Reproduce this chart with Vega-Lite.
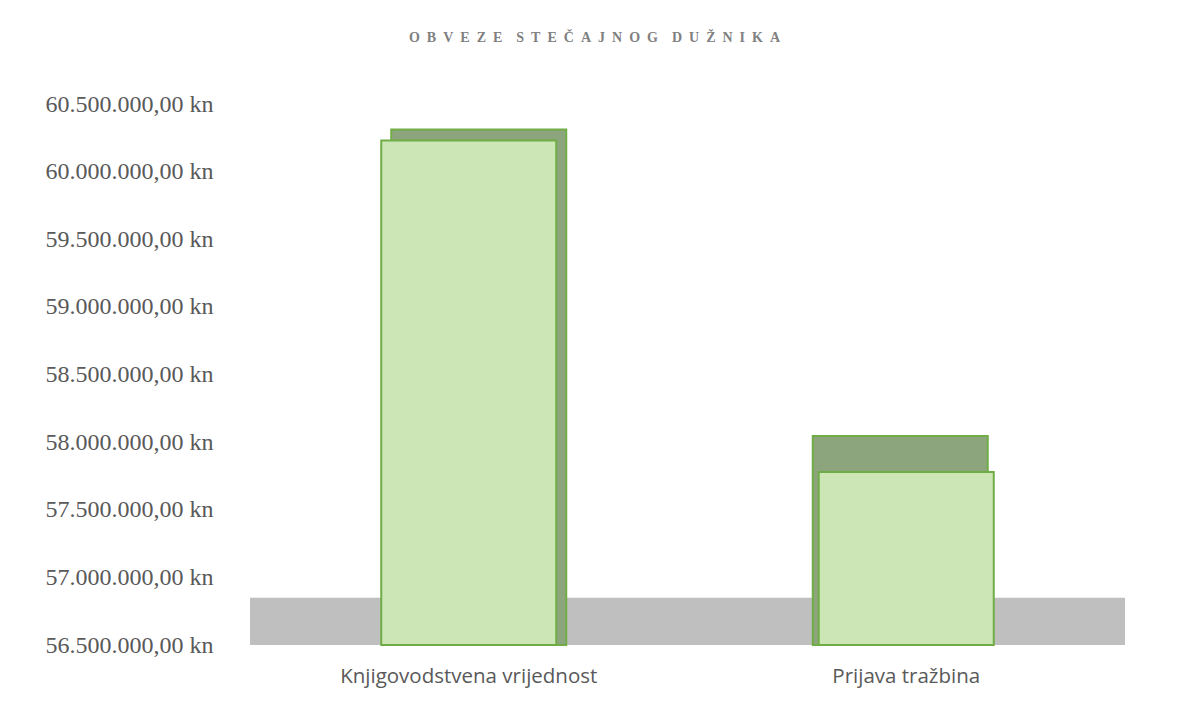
{
  "$schema": "https://vega.github.io/schema/vega-lite/v6.json",
  "width": 875,
  "height": 541,
  "autosize": {"type": "none"},
  "padding": {"left": 250, "top": 104, "right": 53, "bottom": 68},
  "background": "white",
  "config": {
    "view": {"stroke": null},
    "locale": {"number": {"decimal": ",", "thousands": ".", "grouping": [3], "currency": ["", " kn"]}}
  },
  "title": {
    "text": "O\u00a0\u00a0B\u00a0\u00a0V\u00a0\u00a0E\u00a0\u00a0Z\u00a0\u00a0E\u00a0\u00a0\u00a0\u00a0S\u00a0\u00a0T\u00a0\u00a0E\u00a0\u00a0Č\u00a0\u00a0A\u00a0\u00a0J\u00a0\u00a0N\u00a0\u00a0O\u00a0\u00a0G\u00a0\u00a0\u00a0\u00a0D\u00a0\u00a0U\u00a0\u00a0Ž\u00a0\u00a0N\u00a0\u00a0I\u00a0\u00a0K\u00a0\u00a0A",
    "font": "Liberation Serif",
    "fontSize": 14,
    "fontWeight": "bold",
    "color": "#808080",
    "anchor": "middle",
    "offset": 47,
    "dx": -93
  },
  "data": {
    "values": [
      {"kategorija": "Knjigovodstvena vrijednost", "iznos": 60230000},
      {"kategorija": "Prijava tražbina", "iznos": 57780000}
    ]
  },
  "layer": [
    {
      "data": {"values": [{"dno": 56500000, "vrh": 56850000}]},
      "mark": {"type": "rect", "color": "#bfbfbf"},
      "encoding": {
        "y": {"field": "dno", "type": "quantitative", "scale": {"domain": [56500000, 60500000], "zero": false, "nice": false}},
        "y2": {"field": "vrh"}
      }
    },
    {
      "mark": {
        "type": "bar",
        "fill": "#8da57c",
        "stroke": "#70ad47",
        "strokeWidth": 2,
        "xOffset": {"expr": "datum.kategorija == 'Prijava tražbina' ? -6 : 10"},
        "yOffset": {"expr": "datum.kategorija == 'Prijava tražbina' ? -36 : -11"}
      },
      "encoding": {
        "x": {"field": "kategorija", "type": "nominal", "sort": null, "scale": {"paddingInner": 0.6, "paddingOuter": 0.3}},
        "y": {"field": "iznos", "type": "quantitative"},
        "y2": {"datum": 56500000}
      }
    },
    {
      "mark": {"type": "bar", "fill": "#cde6b6", "stroke": "#70ad47", "strokeWidth": 2},
      "encoding": {
        "x": {
          "field": "kategorija",
          "type": "nominal",
          "sort": null,
          "scale": {"paddingInner": 0.6, "paddingOuter": 0.3},
          "axis": {
            "title": null,
            "labelAngle": 0,
            "labelAlign": "center",
            "labelBaseline": "top",
            "domain": false,
            "ticks": false,
            "labelFont": "Open Sans",
            "labelFontSize": 20.5,
            "labelLimit": 500,
            "labelColor": "#595959",
            "labelPadding": 21
          }
        },
        "y": {
          "field": "iznos",
          "type": "quantitative",
          "axis": {
            "title": null,
            "values": [56500000, 57000000, 57500000, 58000000, 58500000, 59000000, 59500000, 60000000, 60500000],
            "format": "$,.2f",
            "domain": false,
            "ticks": false,
            "grid": false,
            "labelFont": "Liberation Serif",
            "labelFontSize": 24,
            "labelColor": "#595959",
            "labelPadding": 37
          }
        },
        "y2": {"datum": 56500000}
      }
    }
  ]
}
